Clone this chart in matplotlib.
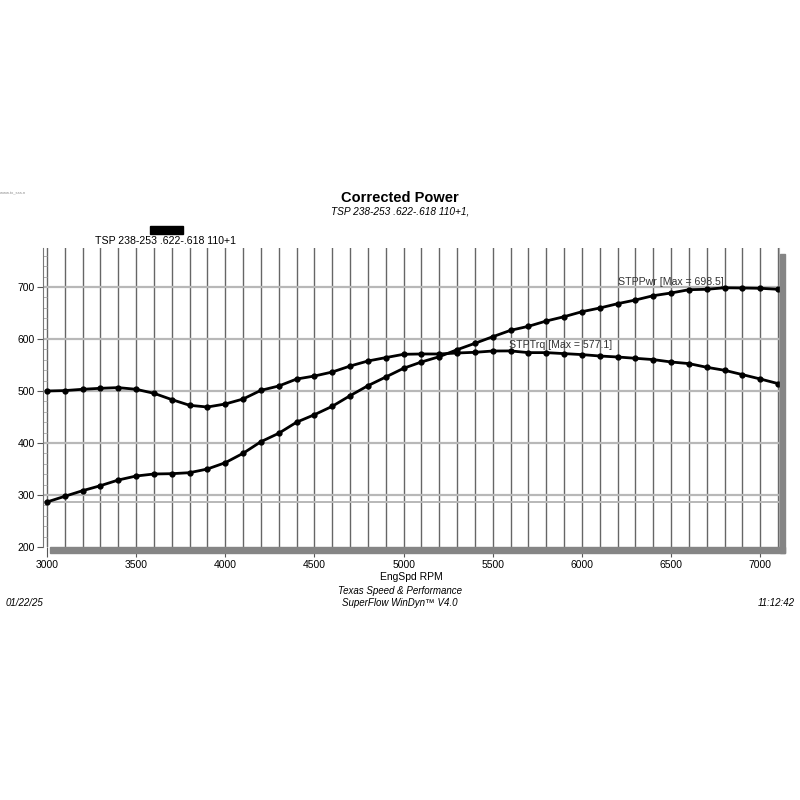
import matplotlib
matplotlib.use("Agg")
import matplotlib.pyplot as plt
from matplotlib.patches import Rectangle
import numpy as np

plt.rcParams['font.family'] = ['Liberation Sans', 'DejaVu Sans']

# dyno pull
rpm = [3000, 3100, 3200, 3300, 3400, 3500, 3600, 3700, 3800, 3900,
       4000, 4100, 4200, 4300, 4400, 4500, 4600, 4700, 4800, 4900,
       5000, 5100, 5200, 5300, 5400, 5500, 5600, 5700, 5800, 5900,
       6000, 6100, 6200, 6300, 6400, 6500, 6600, 6700, 6800, 6900,
       7000, 7100]
stp_trq = [500.0, 500.8, 503.3, 505.2, 506.5, 503.3, 495.6, 483.5, 472.5, 469.2,
           475.0, 484.6, 501.3, 509.6, 523.0, 528.8, 536.5, 548.0, 557.7, 564.2,
           570.6, 571.2, 571.2, 573.1, 574.4, 576.9, 577.1, 573.8, 573.8, 571.9,
           570.0, 567.3, 565.4, 562.9, 560.4, 555.8, 552.7, 545.6, 539.8, 531.5,
           523.1, 514.2]
stp_pwr = [286.5, 297.5, 308.3, 317.9, 328.8, 336.5, 340.4, 341.0, 342.9, 350.0,
           362.1, 380.2, 402.5, 418.7, 440.0, 454.4, 470.6, 491.0, 510.2, 526.9,
           543.7, 555.8, 566.0, 579.4, 591.7, 604.4, 616.7, 624.4, 634.6, 642.9,
           652.5, 659.6, 667.9, 675.0, 683.3, 688.5, 694.8, 695.6, 698.5, 698.1,
           697.5, 695.6]

run_name = "TSP 238-253 .622-.618 110+1"
x_ticks = [3000, 3500, 4000, 4500, 5000, 5500, 6000, 6500, 7000]
y_ticks = [200, 300, 400, 500, 600, 700]

W = H = 800.0


def fx(px):
    return px / W


def fy(py):
    return 1 - py / H


fig = plt.figure(figsize=(8, 8), dpi=100)

# drop shadow behind the plot area
fig.patches.append(Rectangle((fx(50), fy(553)), fx(785) - fx(50), fy(547) - fy(553),
                             transform=fig.transFigure, color="#858585", zorder=0))
fig.patches.append(Rectangle((fx(780), fy(553)), fx(785) - fx(780), fy(254) - fy(553),
                             transform=fig.transFigure, color="#858585", zorder=0))

ax = fig.add_axes([fx(43), fy(547), fx(779) - fx(43), fy(248) - fy(547)])
ax.set_xlim(2978, 7105)
ax.set_ylim(200, 775)

# grid
for r in np.arange(3000, 7101, 100):
    ax.axvline(r, color="#666666", lw=1.0, zorder=1)
for v in y_ticks[1:]:
    ax.axhline(v, color="#b8b8b8", lw=1.6, zorder=1)
ax.axhline(stp_pwr[0], color="#b8b8b8", lw=1.4, zorder=1)

ax.plot(rpm, stp_trq, color="black", lw=2, marker="o", ms=3.5, zorder=3)
ax.plot(rpm, stp_pwr, color="black", lw=2, marker="o", ms=3.5, zorder=3)

ax.text(6200, 709, "STPPwr [Max = %.1f]" % max(stp_pwr), fontsize=7.6,
        color="#333333", va="center", ha="left", zorder=4)
ax.text(5590, 588, "STPTrq [Max = %.1f]" % max(stp_trq), fontsize=7.6,
        color="#333333", va="center", ha="left", zorder=4)

ax.set_xticks(x_ticks)
ax.set_yticks(y_ticks)
ax.set_yticks(np.arange(200, 776, 20), minor=True)
ax.tick_params(axis="x", direction="out", length=7, color="#555555", labelsize=7.5, pad=2)
ax.tick_params(axis="y", which="major", direction="out", length=4, color="#555555",
               labelsize=7.5, pad=2)
ax.tick_params(axis="y", which="minor", direction="in", length=3, color="#aaaaaa")
ax.set_xlabel("EngSpd RPM", fontsize=7.5, labelpad=2)

for s in ["top", "bottom"]:
    ax.spines[s].set_visible(False)
ax.spines["left"].set_color("#777777")
ax.spines["right"].set_color("#aaaaaa")

# titles and captions
fig.text(0.5, fy(198), "Corrected Power", ha="center", va="center",
         fontsize=10.5, fontweight="bold")
fig.text(0.5, fy(211), run_name + ",", ha="center", va="center",
         fontsize=7.3, style="italic")
fig.patches.append(Rectangle((fx(150), fy(234)), fx(183) - fx(150), fy(226) - fy(234),
                             transform=fig.transFigure, color="black"))
fig.text(fx(95), fy(241), run_name, ha="left", va="center", fontsize=7.6)
fig.text(fx(0), fy(193), "www.tx_sss.n", ha="left", va="center", fontsize=3,
         color="#888888")

fig.text(0.5, fy(591), "Texas Speed & Performance", ha="center", va="center",
         fontsize=7, style="italic")
fig.text(0.5, fy(603), "SuperFlow WinDyn\u2122 V4.0", ha="center", va="center",
         fontsize=7, style="italic")
fig.text(fx(6), fy(603), "01/22/25", ha="left", va="center", fontsize=7, style="italic")
fig.text(fx(795), fy(603), "11:12:42", ha="right", va="center", fontsize=7, style="italic")

fig.savefig("out.png", dpi=100)
